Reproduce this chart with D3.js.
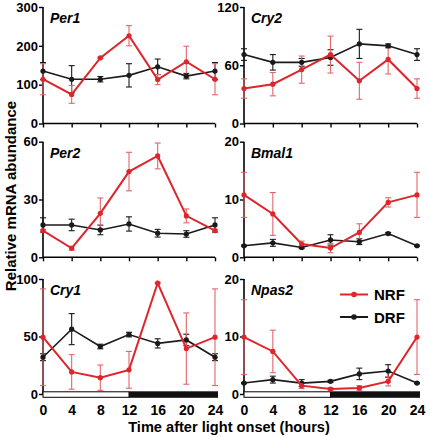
<!DOCTYPE html>
<html><head><meta charset="utf-8">
<script src="https://cdn.jsdelivr.net/npm/d3@7"></script>
<style>
body{margin:0;background:#fff;}
svg{display:block;font-family:"Liberation Sans",Arial,sans-serif;}
</style></head>
<body><svg id="c" width="430" height="437"></svg>
<script>
const times = [0, 4, 8, 12, 16, 20, 24];
const xTicks = [0, 4, 8, 12, 16, 20, 24];
const genes = ["Per1", "Cry2", "Per2", "Bmal1", "Cry1", "Npas2"];
const yMax = [300, 120, 60, 20, 100, 20];
const yTicks = [[0,100,200,300],[0,60,120],[0,30,60],[0,10,20],[0,50,100],[0,10,20]];

const nrfPer1 = [114, 75, 169, 226, 113, 159, 114];
const nrfPer1Err = [40, 23, 2, 26, 13, 40, 40];
const drfPer1 = [135, 114, 114, 124, 146, 122, 135];
const drfPer1Err = [22, 35, 7, 30, 20, 7, 22];

const nrfCry2 = [36, 40.5, 55.5, 71, 44, 66, 36];
const nrfCry2Err = [10, 12, 14, 19, 19, 15, 10];
const drfCry2 = [71, 63, 63, 68, 82, 80, 71];
const drfCry2Err = [6, 8, 4, 8, 15, 2, 6];

const nrfPer2 = [13.8, 4.7, 22.8, 44.5, 52.6, 21.5, 13.8];
const nrfPer2Err = [0.5, 1, 8, 10, 6.7, 3.6, 0.5];
const drfPer2 = [16.8, 16.8, 14.2, 17.3, 12.5, 12.1, 16.8];
const drfPer2Err = [3.7, 3, 2.5, 3.7, 2, 1.7, 3.7];

const nrfBmal1 = [10.8, 7.5, 2.3, 1.6, 4.3, 9.5, 10.8];
const nrfBmal1Err = [3.9, 3.7, 0.5, 0.8, 1.5, 0.8, 3.9];
const drfBmal1 = [2.0, 2.5, 1.7, 3.0, 2.7, 4.1, 2.0];
const drfBmal1Err = [0.1, 0.6, 0.2, 0.9, 0.5, 0.2, 0.1];

const nrfCry1 = [49.4, 19.2, 14.2, 21, 96.5, 39.5, 49.4];
const nrfCry1Err = [42, 15, 11, 16, 0.5, 31, 42];
const drfCry1 = [32, 56.4, 41.3, 51.7, 44, 47, 32];
const drfCry1Err = [3, 13.5, 2, 2, 4, 5, 3];

const nrfNpas2 = [9.9, 7.4, 1.45, 0.87, 1.05, 2.2, 9.9];
const nrfNpas2Err = [6.5, 3.7, 0.5, 0.2, 0.4, 0.8, 6.5];
const drfNpas2 = [1.9, 2.5, 1.9, 2.2, 3.5, 4.0, 1.9];
const drfNpas2Err = [0.1, 0.6, 0.6, 0.2, 1.0, 1.1, 0.1];

const nrf = [nrfPer1, nrfCry2, nrfPer2, nrfBmal1, nrfCry1, nrfNpas2];
const nrfErr = [nrfPer1Err, nrfCry2Err, nrfPer2Err, nrfBmal1Err, nrfCry1Err, nrfNpas2Err];
const drf = [drfPer1, drfCry2, drfPer2, drfBmal1, drfCry1, drfNpas2];
const drfErr = [drfPer1Err, drfCry2Err, drfPer2Err, drfBmal1Err, drfCry1Err, drfNpas2Err];

const RED = "#dd252c", RED_ERR = "#e4656a", BLACK = "#1a1a1a";
const svg = d3.select("#c");

const cols = [[43, 215], [244, 417]];
const rows = [[123.5, 7], [257.3, 141.7], [394, 279]];

genes.forEach((g, i) => {
  const col = cols[i % 2], row = rows[Math.floor(i / 2)];
  const bottom = Math.floor(i / 2) === 2;
  const x = d3.scaleLinear().domain([0, 24]).range(col);
  const y = d3.scaleLinear().domain([0, yMax[i]]).range(row);
  const gp = svg.append("g");

  // y axis
  const ya = gp.append("g").attr("transform", `translate(${col[0]},0)`)
    .call(d3.axisLeft(y).tickValues(yTicks[i]).tickSize(4).tickPadding(1).tickFormat(d3.format("d")));
  ya.select(".domain").attr("stroke", "#000").attr("stroke-width", 1.6).attr("d", `M0,${row[0]}V${row[1]}`);
  ya.selectAll(".tick line").attr("stroke", "#000").attr("stroke-width", 1.4);
  ya.selectAll("text").attr("font-size", 13).attr("font-weight", "bold").attr("fill", "#000")
    .attr("font-family", "Liberation Sans, Arial, sans-serif");

  if (!bottom) {
    const xa = gp.append("g").attr("transform", `translate(0,${row[0]})`)
      .call(d3.axisBottom(x).tickValues(xTicks).tickSize(4).tickFormat(""));
    xa.select(".domain").attr("stroke", "#000").attr("stroke-width", 1.6).attr("d", `M${col[0]},0H${col[1]}`);
    xa.selectAll(".tick line").attr("stroke", "#000").attr("stroke-width", 1.4);
  } else {
    const by = row[0] - 2.2;
    gp.append("rect").attr("x", x(0)).attr("y", by).attr("width", x(12) - x(0)).attr("height", 5.5)
      .attr("fill", "#fff").attr("stroke", "#000").attr("stroke-width", 1);
    gp.append("rect").attr("x", x(12)).attr("y", by - 0.5).attr("width", x(24) + 3 - x(12)).attr("height", 6.5)
      .attr("fill", "#111");
    const xa = gp.append("g").attr("transform", `translate(0,${row[0] + 3})`)
      .call(d3.axisBottom(x).tickValues(xTicks).tickSize(0).tickPadding(8).tickFormat(d3.format("d")));
    xa.select(".domain").remove();
    xa.selectAll("text").attr("font-size", 14).attr("font-weight", "bold").attr("fill", "#000")
      .attr("font-family", "Liberation Sans, Arial, sans-serif");
  }

  // gene name
  gp.append("text").attr("x", col[0] + 7).attr("y", row[1] + 16).text(g)
    .attr("font-size", 14).attr("font-weight", "bold").attr("font-style", "italic");

  const series = [
    { v: drf[i], e: drfErr[i], c: BLACK, ec: BLACK, w: 1.6 },
    { v: nrf[i], e: nrfErr[i], c: RED, ec: RED_ERR, w: 2 }
  ];
  series.forEach(s => {
    const eg = gp.append("g").attr("stroke", s.ec).attr("stroke-width", 1.1).attr("fill", "none");
    times.forEach((t, k) => {
      const lo = y(Math.max(0, s.v[k] - s.e[k])), hi = y(s.v[k] + s.e[k]);
      eg.append("line").attr("x1", x(t)).attr("x2", x(t)).attr("y1", lo).attr("y2", hi);
      eg.append("line").attr("x1", x(t) - 3).attr("x2", x(t) + 3).attr("y1", lo).attr("y2", lo);
      eg.append("line").attr("x1", x(t) - 3).attr("x2", x(t) + 3).attr("y1", hi).attr("y2", hi);
    });
  });
  series.forEach(s => {
    gp.append("path").datum(times.map((t, k) => [t, s.v[k]]))
      .attr("fill", "none").attr("stroke", s.c).attr("stroke-width", s.w)
      .attr("d", d3.line().x(d => x(d[0])).y(d => y(d[1])));
    gp.selectAll(null).data(times.map((t, k) => [t, s.v[k]])).join("circle")
      .attr("cx", d => x(d[0])).attr("cy", d => y(d[1])).attr("r", 2.6).attr("fill", s.c);
  });
});

// legend
const legend = [["NRF", RED, 294.5], ["DRF", BLACK, 317]];
legend.forEach(([name, c, ly]) => {
  svg.append("line").attr("x1", 340).attr("x2", 368).attr("y1", ly).attr("y2", ly)
    .attr("stroke", c).attr("stroke-width", 2);
  svg.append("circle").attr("cx", 354).attr("cy", ly).attr("r", 2.8).attr("fill", c);
  svg.append("text").attr("x", 374).attr("y", ly + 5.5).text(name)
    .attr("font-size", 15).attr("font-weight", "bold");
});

// axis titles
svg.append("text").attr("transform", "translate(16,196) rotate(-90)").attr("text-anchor", "middle")
  .text("Relative mRNA abundance").attr("font-size", 15).attr("font-weight", "bold");
svg.append("text").attr("x", 229).attr("y", 432).attr("text-anchor", "middle")
  .text("Time after light onset (hours)").attr("font-size", 14.6).attr("font-weight", "bold");
</script></body></html>
